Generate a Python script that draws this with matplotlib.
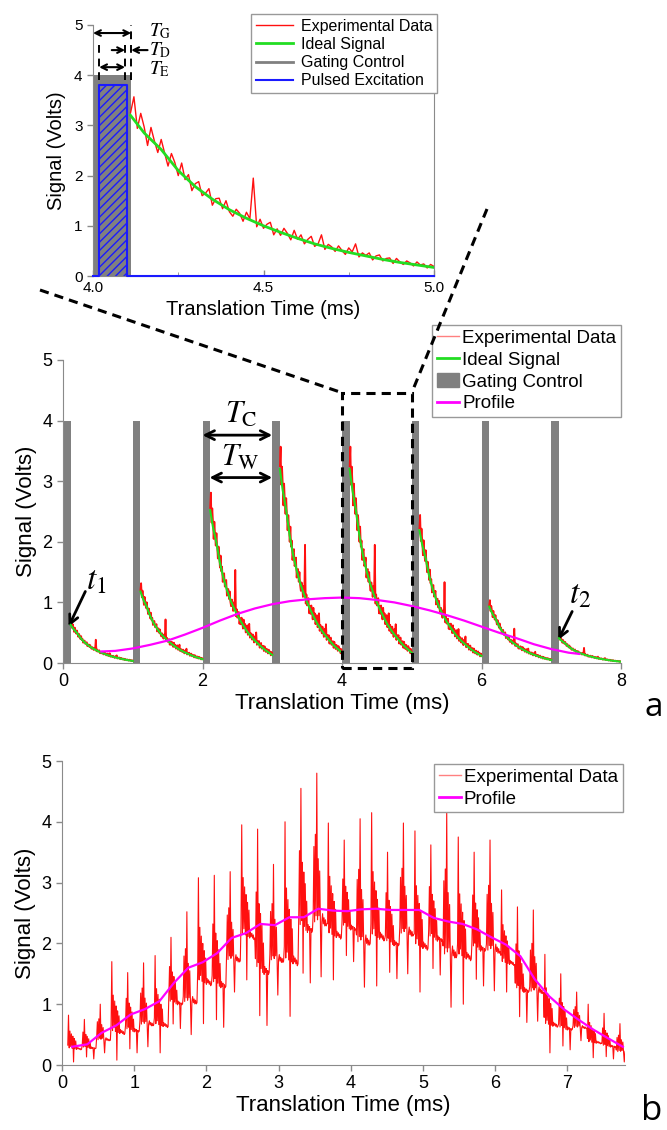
import numpy as np
import matplotlib
matplotlib.use("Agg")
import matplotlib.pyplot as plt
from matplotlib.patches import Rectangle, Patch
from matplotlib.lines import Line2D

plt.rcParams["font.family"] = ["Liberation Sans", "DejaVu Sans"]
plt.rcParams["mathtext.fontset"] = "stix"
plt.rcParams["hatch.linewidth"] = 1.0

# -----------------------------------------------------------------------------------
# 1. Datos

# zoom (panel superior): senal ideal tras la compuerta, 4.11 -> 5.00 ms
ideal_time = [4.11, 4.15, 4.20, 4.25, 4.30, 4.35, 4.40, 4.45, 4.50, 4.55,
              4.60, 4.65, 4.70, 4.75, 4.80, 4.85, 4.90, 4.95, 5.00]
ideal_volts = [3.20, 2.85, 2.52, 2.10, 1.78, 1.53, 1.32, 1.15, 1.00, 0.87,
               0.75, 0.64, 0.55, 0.47, 0.40, 0.33, 0.27, 0.22, 0.17]

# datos experimentales del zoom, muestreados cada 0.01 ms desde 4.11 ms
exp_volts = [3.25, 3.57, 2.94, 3.24, 2.97, 2.60, 2.96, 2.69, 2.46, 2.72,
             2.45, 2.19, 2.44, 2.26, 2.00, 2.25, 1.92, 2.02, 1.70, 1.84,
             1.88, 1.60, 1.65, 1.74, 1.41, 1.54, 1.55, 1.34, 1.50, 1.28,
             1.19, 1.33, 1.25, 1.09, 1.27, 1.14, 1.95, 0.98, 1.13, 0.95,
             1.03, 1.07, 0.82, 0.94, 0.81, 0.95, 0.85, 0.72, 0.91, 0.73,
             0.82, 0.64, 0.73, 0.79, 0.59, 0.64, 0.82, 0.53, 0.63, 0.58,
             0.49, 0.60, 0.51, 0.43, 0.56, 0.48, 0.64, 0.38, 0.46, 0.41,
             0.46, 0.32, 0.40, 0.42, 0.30, 0.35, 0.36, 0.25, 0.35, 0.28,
             0.23, 0.30, 0.26, 0.20, 0.28, 0.22, 0.24, 0.16, 0.23, 0.19]
exp_start, exp_step = 4.11, 0.01

# pulso de excitacion (panel superior)
pulse_x = [4.0, 4.018, 4.018, 4.10, 4.10, 5.0]
pulse_y = [0.0, 0.0, 3.8, 3.8, 0.0, 0.0]

# compuertas del panel a
gate_starts = [0, 1, 2, 3, 4, 5, 6, 7]
gate_width = 0.11
gate_height = 4.0
# amplitud inicial de la senal ideal en cada ventana
window_peaks = [0.63, 1.18, 2.52, 3.20, 3.20, 2.19, 0.93, 0.41]

# perfil del panel a
profile_a_time = [0.55, 0.75, 1.00, 1.25, 1.50, 1.75, 2.00, 2.25, 2.50, 2.75,
                  3.00, 3.25, 3.50, 3.75, 4.00, 4.25, 4.50, 4.75, 5.00, 5.25,
                  5.50, 5.75, 6.00, 6.25, 6.50, 6.75, 7.00, 7.25, 7.40]
profile_a_volts = [0.19, 0.20, 0.24, 0.30, 0.37, 0.47, 0.58, 0.70, 0.81, 0.90,
                   0.97, 1.02, 1.05, 1.07, 1.08, 1.07, 1.04, 1.00, 0.94, 0.87,
                   0.79, 0.70, 0.60, 0.50, 0.41, 0.31, 0.23, 0.17, 0.15]

# panel b: tren de pulsos
pulse_b_start = np.arange(39) * 0.2 + 0.08
pulse_b_top = [0.82, 0.75, 1.00, 1.70, 1.52, 1.68, 1.80, 2.10, 2.52, 3.08,
               3.12, 3.18, 3.95, 3.88, 3.30, 4.00, 4.55, 4.80, 3.98, 3.70,
               4.05, 4.15, 3.50, 3.98, 3.85, 3.62, 4.20, 3.75, 3.50, 3.70,
               2.88, 2.60, 2.55, 1.82, 1.50, 1.20, 1.00, 0.85, 0.68]
pulse_b_low = [0.05, 0.10, 0.20, 0.08, 0.20, 0.30, 0.20, 0.60, 0.50, 0.68,
               0.62, 1.20, 1.40, 0.65, 1.15, 0.80, 1.35, 1.45, 1.40, 1.70,
               1.28, 1.30, 1.42, 1.50, 1.20, 1.48, 0.95, 1.00, 1.30, 1.22,
               1.20, 0.70, 0.72, 0.20, 0.25, 0.40, 0.12, 0.10, 0.05]
burst_a = [0.36, 1.00, 0.30, 0.66, 0.33, 0.60, 0.29, 0.55, 0.00, 0.50,
           0.28, 0.45, 0.27, 0.31, 0.28, 0.30, 0.27, 0.29, 0.26, 0.27]
burst_b = [0.34, 0.68, 0.30, 1.00, 0.32, 0.62, 0.05, 0.57, 0.29, 0.51,
           0.27, 0.42, 0.26, 0.30, 0.27, 0.29, 0.00, 0.28, 0.26, 0.27]
burst_c = [0.31, 0.64, 0.27, 0.70, 0.30, 1.00, 0.28, 0.58, 0.30, 0.52,
           0.26, 0.00, 0.27, 0.31, 0.26, 0.29, 0.25, 0.28, 0.25, 0.26]
burst_step = 0.01

profile_b_time = [0.14, 0.35, 0.55, 0.75, 0.95, 1.15, 1.35, 1.55, 1.75, 1.95,
                  2.15, 2.35, 2.55, 2.75, 2.95, 3.15, 3.35, 3.55, 3.75, 3.95,
                  4.15, 4.35, 4.55, 4.75, 4.95, 5.15, 5.35, 5.55, 5.75, 5.95,
                  6.15, 6.35, 6.55, 6.75, 6.95, 7.15, 7.35, 7.55, 7.77]
profile_b_volts = [0.30, 0.34, 0.53, 0.65, 0.83, 0.92, 1.05, 1.35, 1.60, 1.69,
                   1.84, 2.09, 2.17, 2.32, 2.30, 2.43, 2.43, 2.57, 2.54, 2.53,
                   2.56, 2.57, 2.55, 2.55, 2.55, 2.42, 2.36, 2.32, 2.23, 2.10,
                   1.98, 1.79, 1.41, 1.13, 0.92, 0.75, 0.59, 0.45, 0.30]

# -----------------------------------------------------------------------------------
# 2. Estilo comun

RED = "#ff1010"
GREEN = "#22dd22"
GRAY = "#808080"
MAGENTA = "#ff00ff"
BLUE = "#1a1aff"
SPINE = "#8a8a8a"


def estilo(ax, tick_size):
    for s in ["top", "right"]:
        ax.spines[s].set_visible(False)
    for s in ["left", "bottom"]:
        ax.spines[s].set_color(SPINE)
    ax.tick_params(colors=SPINE, labelcolor="black", labelsize=tick_size,
                   length=4, width=1)


fig = plt.figure(figsize=(6.67, 11.3), dpi=100)
W, H = 667, 1130


def caja(left, top, right, bottom):
    return [left / W, 1 - bottom / H, (right - left) / W, (bottom - top) / H]


ax_top = fig.add_axes(caja(93, 25, 434, 276))
ax_mid = fig.add_axes(caja(63, 360, 621, 663))
ax_bot = fig.add_axes(caja(62, 761, 625, 1065))

# -----------------------------------------------------------------------------------
# 3. Panel superior (zoom 4-5 ms)

ax = ax_top
estilo(ax, 11)
ax.spines["right"].set_visible(True)
ax.spines["right"].set_color(SPINE)
exp_time = exp_start + exp_step * np.arange(len(exp_volts))
ax.add_patch(Rectangle((4.0, 0), gate_width, gate_height, color=GRAY,
                       zorder=1, lw=0))
ax.add_patch(Rectangle((pulse_x[1], 0), pulse_x[3] - pulse_x[1], pulse_y[2],
                       facecolor="none", edgecolor=BLUE, hatch="////",
                       lw=0, zorder=2))
ax.plot(exp_time, exp_volts, color=RED, lw=1.0, zorder=3,
        label="Experimental Data")
ax.plot(ideal_time, ideal_volts, color=GREEN, lw=2.0, zorder=4,
        label="Ideal Signal")
ax.plot([], [], color=GRAY, lw=2.0, label="Gating Control")
ax.plot(pulse_x, pulse_y, color=BLUE, lw=1.5, zorder=5, clip_on=False,
        label="Pulsed Excitation")
ax.set_xlim(4.0, 5.0)
ax.set_ylim(0, 5)
ax.set_xticks([4.0, 4.5, 5.0])
ax.set_xticklabels(["4.0", "4.5", "5.0"])
ax.set_xticks([4.25, 4.75], minor=True)
ax.tick_params(axis="x", which="both", direction="in")
ax.tick_params(axis="x", which="minor", length=3, colors=SPINE)
ax.set_yticks(range(6))
ax.set_xlabel("Translation Time (ms)", fontsize=14.5, labelpad=4)
ax.set_ylabel("Signal (Volts)", fontsize=14.5, labelpad=6)
ax.legend(loc="upper right", bbox_to_anchor=(1.009, 1.044), fontsize=11.5,
          frameon=True, fancybox=False, edgecolor="#999999", framealpha=1,
          borderaxespad=0, borderpad=0.3, labelspacing=0.2, handlelength=2.3,
          handletextpad=0.5)

# lineas discontinuas y flechas de tiempos
dash = dict(color="black", lw=1.4, ls=(0, (4, 3)), clip_on=False, zorder=6)
ax.plot([4.018, 4.018], [3.9, 4.6], **dash)
ax.plot([4.094, 4.094], [3.9, 4.6], **dash)
ax.plot([4.112, 4.112], [3.9, 5.0], **dash)
arr = dict(lw=1.5, color="black", shrinkA=0, shrinkB=0, mutation_scale=10)
ax.annotate("", xy=(4.112, 4.84), xytext=(4.0, 4.84),
            arrowprops=dict(arrowstyle="<->", **arr), annotation_clip=False)
ax.annotate("", xy=(4.094, 4.5), xytext=(4.055, 4.5),
            arrowprops=dict(arrowstyle="->", **arr), annotation_clip=False)
ax.annotate("", xy=(4.112, 4.5), xytext=(4.16, 4.5),
            arrowprops=dict(arrowstyle="->", **arr), annotation_clip=False)
ax.annotate("", xy=(4.094, 4.16), xytext=(4.018, 4.16),
            arrowprops=dict(arrowstyle="<->", **arr), annotation_clip=False)
ax.text(4.165, 4.78, r"$T_{\mathrm{G}}$", fontsize=14, va="baseline")
ax.text(4.165, 4.40, r"$T_{\mathrm{D}}$", fontsize=14, va="baseline")
ax.text(4.165, 4.02, r"$T_{\mathrm{E}}$", fontsize=14, va="baseline")

# -----------------------------------------------------------------------------------
# 4. Panel a (0-8 ms)

ax = ax_mid
estilo(ax, 13)
for k, g in enumerate(gate_starts):
    ax.add_patch(Rectangle((g, 0), gate_width, gate_height, color=GRAY,
                           lw=0, zorder=1))
    escala = window_peaks[k] / ideal_volts[0]
    desplaz = g - 4
    ax.plot(exp_time + desplaz, np.array(exp_volts) * escala, color=RED,
            lw=1.3, zorder=3)
    ax.plot(np.array(ideal_time) + desplaz, np.array(ideal_volts) * escala,
            color=GREEN, lw=1.5, zorder=4)
ax.plot(profile_a_time, profile_a_volts, color=MAGENTA, lw=1.6, zorder=5)
ax.set_xlim(0, 8)
ax.set_ylim(0, 5)
ax.set_xticks(range(0, 9, 2))
ax.set_yticks(range(6))
ax.set_xlabel("Translation Time (ms)", fontsize=16, labelpad=2)
ax.set_ylabel("Signal (Volts)", fontsize=16, labelpad=4)

h_a = [Line2D([], [], color="#ff8080", lw=1.0),
       Line2D([], [], color=GREEN, lw=2.0),
       Patch(color=GRAY),
       Line2D([], [], color=MAGENTA, lw=2.0)]
ax.legend(h_a, ["Experimental Data", "Ideal Signal", "Gating Control", "Profile"],
          loc="upper right", bbox_to_anchor=(1.0, 1.115), fontsize=13.5,
          frameon=True, fancybox=False, edgecolor="#999999", framealpha=1,
          borderaxespad=0, borderpad=0.25, labelspacing=0.25, handlelength=1.2,
          handletextpad=0.15)

# caja del zoom
zx0, zx1 = ax_top.get_xlim()
zy0, zy1 = -0.08, 4.46
ax.add_patch(Rectangle((zx0, zy0), zx1 - zx0, zy1 - zy0, fill=False,
                       ec="black", lw=2.2, ls=(0, (3, 2)), clip_on=False,
                       zorder=7))
inv = fig.transFigure.inverted()
for (bx, by), (fx, fy) in [((zx0, zy1), (40, 290)), ((zx1, zy1), (487, 209))]:
    p = inv.transform(ax.transData.transform((bx, by)))
    fig.add_artist(Line2D([fx / W, p[0]], [1 - fy / H, p[1]],
                          transform=fig.transFigure, color="black", lw=2.2,
                          ls=(0, (3, 2))))

arr2 = dict(lw=2.0, color="black", shrinkA=0, shrinkB=0, mutation_scale=16)
ax.annotate("", xy=(3.0, 3.76), xytext=(2.0, 3.76),
            arrowprops=dict(arrowstyle="<->", **arr2))
ax.annotate("", xy=(3.0, 3.06), xytext=(2.1, 3.06),
            arrowprops=dict(arrowstyle="<->", **arr2))
ax.text(2.55, 3.97, r"$T_{\mathrm{C}}$", fontsize=22, ha="center",
        va="baseline")
ax.text(2.55, 3.25, r"$T_{\mathrm{W}}$", fontsize=22, ha="center",
        va="baseline")
ax.annotate("", xy=(0.08, 0.6), xytext=(0.32, 1.18),
            arrowprops=dict(arrowstyle="->", **arr2))
ax.text(0.33, 1.22, r"$t_1$", fontsize=24, va="baseline")
ax.annotate("", xy=(7.1, 0.38), xytext=(7.3, 0.85),
            arrowprops=dict(arrowstyle="->", **arr2))
ax.text(7.25, 0.98, r"$t_2$", fontsize=24, va="baseline")

fig.text(645 / W, 1 - 716 / H, "a", fontsize=24, family="Open Sans",
         va="baseline")

# -----------------------------------------------------------------------------------
# 5. Panel b (tren de pulsos completo)

ax = ax_bot
estilo(ax, 13)
bursts = [burst_a, burst_b, burst_c]
xs, ys = [], []
for i, t0 in enumerate(pulse_b_start):
    patron = np.array(bursts[i % 3])
    xs.append(t0 + burst_step * np.arange(len(patron)))
    ys.append(pulse_b_low[i] + (pulse_b_top[i] - pulse_b_low[i]) * patron)
ax.plot(np.concatenate(xs), np.concatenate(ys), color=RED, lw=0.8, zorder=2)
ax.plot(profile_b_time, profile_b_volts, color=MAGENTA, lw=1.6, zorder=3)
ax.set_xlim(0, 7.8)
ax.set_ylim(0, 5)
ax.set_xticks(range(8))
ax.set_yticks(range(6))
ax.set_xlabel("Translation Time (ms)", fontsize=16, labelpad=2)
ax.set_ylabel("Signal (Volts)", fontsize=16, labelpad=4)
h_b = [Line2D([], [], color="#ff8080", lw=1.0),
       Line2D([], [], color=MAGENTA, lw=2.0)]
ax.legend(h_b, ["Experimental Data", "Profile"], loc="upper right",
          bbox_to_anchor=(0.996, 0.99), fontsize=13.5, frameon=True,
          fancybox=False, edgecolor="#999999", framealpha=1, borderaxespad=0,
          borderpad=0.25, labelspacing=0.25, handlelength=1.2,
          handletextpad=0.15)

fig.text(641 / W, 1 - 1120 / H, "b", fontsize=25, family="Open Sans",
         va="baseline")

fig.savefig("out.png", dpi=100)
